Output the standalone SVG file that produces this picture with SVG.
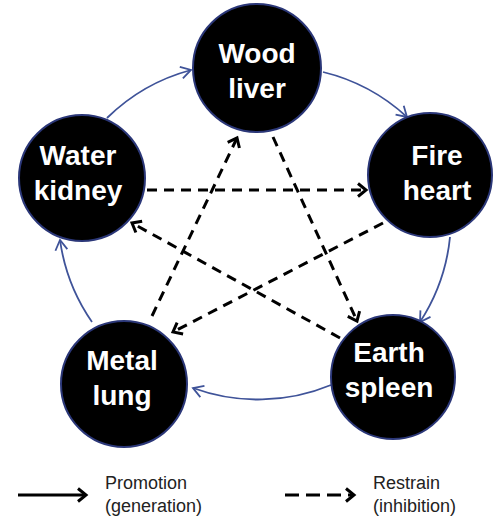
<svg xmlns="http://www.w3.org/2000/svg" width="494" height="517" viewBox="0 0 494 517">
<style>
.node{fill:#000;stroke:#2b3778;stroke-width:2}
.lbl{font-family:"Liberation Sans",Arial,sans-serif;font-weight:bold;font-size:28px;fill:#fff;text-anchor:middle}
.gen{fill:none;stroke:#3f5399;stroke-width:1.8}
.res{fill:none;stroke:#000;stroke-width:3;stroke-dasharray:10 7}
.leg{font-family:"Liberation Sans",Arial,sans-serif;font-size:18px;fill:#222}
</style>
<defs>
<marker id="ab" markerUnits="userSpaceOnUse" markerWidth="20" markerHeight="20" viewBox="-12 -10 14 20" refX="0" refY="0" orient="auto">
<path d="M-10,-6 L0,0 L-10,6" fill="none" stroke="#3f5399" stroke-width="1.8"/>
</marker>
<marker id="ad" markerUnits="userSpaceOnUse" markerWidth="20" markerHeight="20" viewBox="-12 -10 14 20" refX="0" refY="0" orient="auto">
<path d="M-8,-6.5 L0,0 L-8,6.5" fill="none" stroke="#000" stroke-width="3"/>
</marker>
</defs>
<rect width="494" height="517" fill="#fff"/>
<g id="connectors">
<path class="gen" d="M107,118 A190,190 0 0 1 191,70" marker-end="url(#ab)"/>
<path class="gen" d="M323,72 A190,190 0 0 1 407,117" marker-end="url(#ab)"/>
<path class="gen" d="M450,237 A190,190 0 0 1 420,322" marker-end="url(#ab)"/>
<path class="gen" d="M331,385 A190,190 0 0 1 193,388" marker-end="url(#ab)"/>
<path class="gen" d="M92,322 A190,190 0 0 1 60,240" marker-end="url(#ab)"/>
<path class="res" d="M147,190 L366,190" marker-end="url(#ad)"/>
<path class="res" d="M383,223 L173,332" marker-end="url(#ad)"/>
<path class="res" d="M152,316 L237,138" marker-end="url(#ad)"/>
<path class="res" d="M273,137 L357,321" marker-end="url(#ad)"/>
<path class="res" d="M340,338 L132,223" marker-end="url(#ad)"/>
</g>
<g id="wood"><circle class="node" cx="257" cy="68" r="64"/><text class="lbl" x="257" y="63">Wood</text><text class="lbl" x="257" y="98">liver</text></g>
<g id="fire"><circle class="node" cx="430" cy="175" r="62"/><text class="lbl" x="437" y="165">Fire</text><text class="lbl" x="437" y="200">heart</text></g>
<g id="earth"><circle class="node" cx="393" cy="377" r="62"/><text class="lbl" x="389" y="362">Earth</text><text class="lbl" x="389" y="397">spleen</text></g>
<g id="metal"><circle class="node" cx="124" cy="384" r="63"/><text class="lbl" x="122" y="370">Metal</text><text class="lbl" x="122" y="405">lung</text></g>
<g id="water"><circle class="node" cx="82" cy="178" r="63"/><text class="lbl" x="78" y="165">Water</text><text class="lbl" x="78" y="200">kidney</text></g>
<g id="legend">
<line x1="18" y1="495" x2="86" y2="495" stroke="#000" stroke-width="3" marker-end="url(#ad)"/>
<text class="leg" x="105" y="489">Promotion</text>
<text class="leg" x="105" y="512">(generation)</text>
<line x1="285" y1="495" x2="354" y2="495" stroke="#000" stroke-width="3" stroke-dasharray="14 7" marker-end="url(#ad)"/>
<text class="leg" x="373" y="489">Restrain</text>
<text class="leg" x="373" y="512">(inhibition)</text>
</g>
</svg>
